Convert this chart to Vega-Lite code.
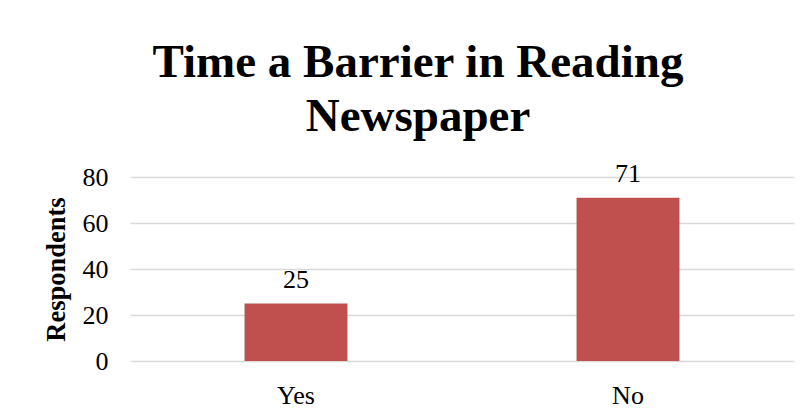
{
  "$schema": "https://vega.github.io/schema/vega-lite/v6.json",
  "width": 664,
  "height": 184,
  "autosize": {"type": "none"},
  "padding": {"left": 130, "top": 177, "right": 15, "bottom": 57},
  "background": "white",
  "title": {
    "text": ["Time a Barrier in Reading", "Newspaper"],
    "font": "Liberation Serif",
    "fontSize": 47,
    "fontWeight": "bold",
    "color": "#000000",
    "lineHeight": 54,
    "anchor": "middle",
    "frame": "group",
    "dx": -44,
    "offset": 20
  },
  "data": {
    "values": [
      {"answer": "Yes", "respondents": 25},
      {"answer": "No", "respondents": 71}
    ]
  },
  "encoding": {
    "x": {
      "field": "answer",
      "type": "nominal",
      "sort": null,
      "scale": {"paddingInner": 0, "paddingOuter": 0},
      "axis": {
        "title": null,
        "labelAngle": 0,
        "labelFont": "Liberation Serif",
        "labelFontSize": 26,
        "labelColor": "#000000",
        "labelPadding": 21,
        "ticks": false,
        "domain": false,
        "grid": false
      }
    },
    "y": {
      "field": "respondents",
      "type": "quantitative",
      "scale": {"domain": [0, 80]},
      "axis": {
        "title": "Respondents",
        "titleFont": "Liberation Serif",
        "titleFontSize": 26.5,
        "titleFontWeight": "bold",
        "titleColor": "#000000",
        "titlePadding": 12,
        "values": [0, 20, 40, 60, 80],
        "labelFont": "Liberation Serif",
        "labelFontSize": 26,
        "labelColor": "#000000",
        "labelPadding": 22,
        "ticks": false,
        "domain": false,
        "grid": true,
        "gridColor": "#D9D9D9",
        "gridWidth": 1.5
      }
    }
  },
  "layer": [
    {
      "mark": {"type": "bar", "color": "#C0504D", "width": {"band": 0.31}}
    },
    {
      "mark": {
        "type": "text",
        "font": "Liberation Serif",
        "fontSize": 26,
        "color": "#000000",
        "baseline": "alphabetic",
        "dy": -16
      },
      "encoding": {"text": {"field": "respondents", "type": "quantitative"}}
    }
  ],
  "config": {"view": {"stroke": null}}
}
